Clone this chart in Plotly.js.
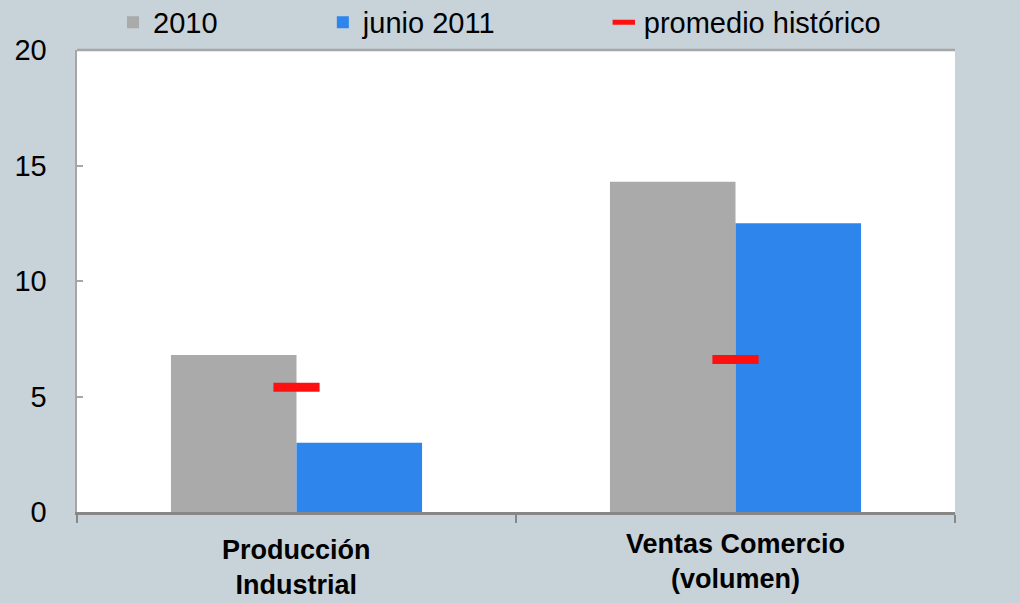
<!DOCTYPE html>
<html>
<head>
<meta charset="utf-8">
<script src="https://cdn.plot.ly/plotly-3.0.1.min.js"></script>
<style>html,body{margin:0;padding:0;background:#c7d2d9;}</style>
</head>
<body>
<div id="chart" style="width:1020px;height:603px;"></div>
<script>
const categories = ["Producción<br>Industrial", "Ventas Comercio<br>(volumen)"];
const seriesNames = ["2010", "junio 2011", "promedio histórico"];
const values2010 = [6.8, 14.3];
const valuesJunio2011 = [3.0, 12.5];
const promedioHistorico = [5.4, 6.6];
const yTicks = [0, 5, 10, 15, 20];

const fontFam = '"Liberation Sans", Arial, sans-serif';

const traces = [
  {type: 'bar', name: seriesNames[0], x: categories, y: values2010,
   marker: {color: '#aaaaaa'}, legend: 'legend', hoverinfo: 'y'},
  {type: 'bar', name: seriesNames[1], x: categories, y: valuesJunio2011,
   marker: {color: '#2e86ec'}, legend: 'legend2', hoverinfo: 'y'},
  {type: 'scatter', mode: 'markers', name: seriesNames[2], x: categories, y: promedioHistorico,
   marker: {symbol: 'line-ew', size: 33, line: {color: '#ff1010', width: 9}, color: '#ff1010'},
   legend: 'legend3', hoverinfo: 'y'}
];

const legendBase = {orientation: 'h', yanchor: 'middle', y: 1.06, xanchor: 'left',
  bgcolor: 'rgba(0,0,0,0)', font: {family: fontFam, size: 29, color: '#000'}, itemwidth: 30};

const catLabelShift = [-21, -15];

const layout = {
  width: 1020, height: 603,
  paper_bgcolor: '#c7d2d9', plot_bgcolor: '#ffffff',
  margin: {l: 77, r: 65, t: 50, b: 91, autoexpand: false},
  barmode: 'group', bargap: 0.428, bargroupgap: 0,
  font: {family: fontFam, size: 29, color: '#000'},
  showlegend: true,
  legend: Object.assign({}, legendBase, {x: 0.041}),
  legend2: Object.assign({}, legendBase, {x: 0.280}),
  legend3: Object.assign({}, legendBase, {x: 0.600}),
  xaxis: {type: 'category', showline: true, linecolor: '#878787', linewidth: 3,
    ticks: 'outside', tickson: 'boundaries', ticklen: 8, tickwidth: 2, tickcolor: '#878787',
    showticklabels: false, showgrid: false, zeroline: false, fixedrange: true},
  yaxis: {range: [0, 20], tickvals: yTicks, ticktext: yTicks.map(String),
    showline: true, linecolor: '#a6a6a6', linewidth: 2.5,
    ticks: 'inside', ticklen: 6, tickwidth: 2, tickcolor: '#a6a6a6',
    ticklabelstandoff: 22, showgrid: false, zeroline: false,
    tickfont: {family: fontFam, size: 29, color: '#000'}},
  yaxis2: {range: [0, 20], tickvals: yTicks, ticktext: yTicks.map(String),
    overlaying: 'y', side: 'right', showline: true, linecolor: '#a6a6a6', linewidth: 2.5,
    ticks: 'inside', ticklen: 6, tickwidth: 2, tickcolor: '#a6a6a6',
    ticklabelstandoff: 23, showgrid: false, zeroline: false,
    tickfont: {family: fontFam, size: 29, color: '#000'}},
  shapes: [{type: 'line', xref: 'paper', yref: 'paper', x0: 0, x1: 1, y0: 1, y1: 1,
    line: {color: '#a6a6a6', width: 2.5}}],
  annotations: categories.map((c, i) => ({
    text: '<b>' + c + '</b>', xref: 'x', x: c, yref: 'paper', y: 0,
    yanchor: 'top', xanchor: 'center', yshift: catLabelShift[i], showarrow: false,
    font: {family: fontFam, size: 27, color: '#000'}, align: 'center'
  }))
};

Plotly.newPlot('chart', traces, layout, {staticPlot: true});
</script>
</body>
</html>
